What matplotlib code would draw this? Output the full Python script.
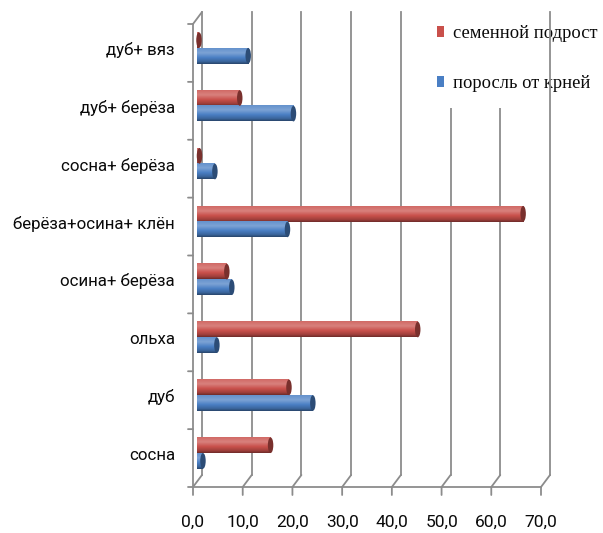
import numpy as np
import matplotlib
matplotlib.use('Agg')
import matplotlib.pyplot as plt
from matplotlib.transforms import ScaledTranslation
from matplotlib.patches import Ellipse, Patch, ConnectionPatch
from matplotlib.colors import to_rgb

# data
categories = ['сосна', 'дуб', 'ольха', 'осина+ берёза', 'берёза+осина+ клён',
              'сосна+ берёза', 'дуб+ берёза', 'дуб+ вяз']
seed_growth = [14.8, 18.5, 44.4, 6.0, 65.6, 0.5, 8.6, 0.4]      # семенной подрост
root_sprouts = [1.2, 23.3, 4.0, 7.0, 18.2, 3.6, 19.4, 10.3]     # поросль от крней
series_names = ['семенной подрост', 'поросль от крней']
x_ticks = [0, 10, 20, 30, 40, 50, 60, 70]

red = '#c9504b'
blue = '#4a7fc4'
grid_col = '#8c8c8c'
txt_col = '#0a0a0a'
sans = ['Roboto', 'DejaVu Sans']

W, H = 603, 533
fig = plt.figure(figsize=(W / 100, H / 100), dpi=100)
# axes = back wall of the 3d box
ax = fig.add_axes([202 / W, (H - 475) / H, 348 / W, 463 / H])
ax.set_xlim(0, 70)
ax.set_ylim(-0.5, 7.5)
ax.axis('off')


def shift(dx, dy):
    # data transform moved by dx, dy pixels (depth of the fake 3d box)
    return ax.transData + ScaledTranslation(dx / 100, dy / 100, fig.dpi_scale_trans)


front = shift(-9, -12)
mid = shift(-5, -7)


def seg(pa, ta, pb, tb, z=1):
    c = ConnectionPatch(xyA=pa, coordsA=ta, xyB=pb, coordsB=tb,
                        color=grid_col, lw=1.3, zorder=z)
    c.set_clip_on(False)
    ax.add_artist(c)


# back wall gridlines
for v in x_ticks:
    ax.plot([v, v], [-0.5, 7.5], color=grid_col, lw=1.3, clip_on=False,
            zorder=6 if v == x_ticks[-1] else 1)
    # floor diagonal, front tick, tick label
    seg((v, -0.5), front, (v, -0.5), ax.transData)
    seg((v, -0.5), front, (v, -0.5), shift(-9, -20))
    ax.text(v, -0.5, f'{v:.1f}'.replace('.', ','), transform=shift(-9, -47),
            ha='center', va='center', fontsize=12.5, color=txt_col, family=sans)

# front x axis line and left wall
ax.plot([0, 70], [-0.5, -0.5], color=grid_col, lw=1.3, transform=front, clip_on=False)
ax.plot([0, 0], [-0.5, 7.5], color=grid_col, lw=1.3, transform=front, clip_on=False)
seg((0, 7.5), front, (0, 7.5), ax.transData)
for b in np.arange(-0.5, len(categories), 1.0):
    seg((0, b), front, (0, b), shift(-14, -12))

# category labels
for i, name in enumerate(categories):
    ax.text(0, i, name, transform=shift(-27, -9), ha='right', va='center',
            fontsize=12.2, color=txt_col, family=sans)


def shade(base):
    c = np.array(to_rgb(base))
    stops = [0.0, 0.3, 0.6, 0.85, 1.0]
    cols = [c + (1 - c) * 0.15, c + (1 - c) * 0.28, c, c * 0.8, c * 0.55]
    t = np.linspace(0, 1, 40)
    g = np.stack([np.interp(t, stops, [k[j] for k in cols]) for j in range(3)], axis=1)
    return g[:, None, :]


h = 0.27
for vals, col, off in [(seed_growth, red, 0.0), (root_sprouts, blue, -h)]:
    grad = shade(col)
    dark = np.array(to_rgb(col)) * 0.6
    for i, v in enumerate(vals):
        y0 = i + off
        im = ax.imshow(grad, extent=(0, v, y0, y0 + h), aspect='auto', transform=mid,
                       interpolation='bilinear', zorder=3)
        im.set_clip_on(False)
        ax.add_patch(Ellipse((v, y0 + h / 2), 1.1, h, transform=mid, clip_on=False,
                             facecolor=dark, edgecolor='none', zorder=4))

ax.set_xlim(0, 70)
ax.set_ylim(-0.5, 7.5)

handles = [Patch(facecolor=red, edgecolor='none'), Patch(facecolor=blue, edgecolor='none')]
leg = ax.legend(handles, series_names, loc='upper left',
                bbox_to_anchor=(421 / W, 1 - 9 / H), bbox_transform=fig.transFigure,
                frameon=True, fancybox=False, framealpha=1, facecolor='white',
                edgecolor='none', prop={'family': 'Liberation Serif', 'size': 13.3},
                handlelength=0.42, handleheight=0.55, handletextpad=0.45,
                labelspacing=1.8, borderpad=0.85, borderaxespad=0)
leg.set_zorder(5)
for t in leg.get_texts():
    t.set_color(txt_col)

fig.savefig('out.png', dpi=100)
